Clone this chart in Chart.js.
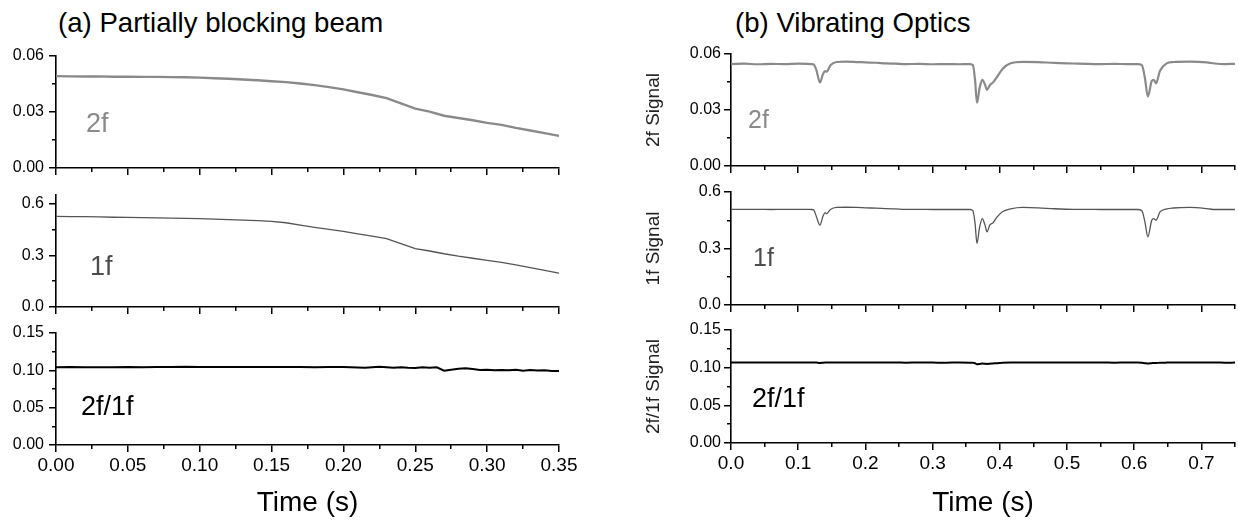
<!DOCTYPE html>
<html><head><meta charset="utf-8">
<script src="https://cdn.jsdelivr.net/npm/chart.js@4.4.1/dist/chart.umd.min.js"></script>
<style>
html,body{margin:0;padding:0;background:#fff;width:1238px;height:521px;overflow:hidden;position:relative;font-family:"Liberation Sans",Arial,sans-serif;}
canvas{position:absolute;}
.t{position:absolute;white-space:nowrap;line-height:1;}
</style></head><body>
<div class="t" style="left:58px;top:9px;font-size:27.6px;color:#000;">(a) Partially blocking beam</div>
<div class="t" style="left:735px;top:9px;font-size:27.6px;color:#000;">(b) Vibrating Optics</div>
<script>
// ---------- data ----------
const leftTime = [0,0.01,0.02,0.03,0.04,0.05,0.06,0.07,0.08,0.09,0.10,0.11,0.12,0.13,0.14,0.15,0.16,0.17,0.18,0.19,0.20,0.21,0.22,0.23,0.24,0.25,0.26,0.27,0.28,0.29,0.30,0.31,0.32,0.33,0.34,0.35];
const left2f = [0.0492,0.0491,0.0490,0.0491,0.0489,0.0489,0.0488,0.0488,0.0487,0.0486,0.0484,0.0481,0.0478,0.0474,0.0470,0.0465,0.0460,0.0453,0.0444,0.0433,0.0421,0.0406,0.0391,0.0374,0.0346,0.0318,0.0302,0.0280,0.0268,0.0256,0.0242,0.0231,0.0215,0.0201,0.0187,0.0172];
const left1f = [0.526,0.525,0.524,0.523,0.521,0.520,0.519,0.517,0.516,0.514,0.513,0.510,0.507,0.504,0.501,0.497,0.489,0.475,0.462,0.450,0.439,0.425,0.411,0.397,0.368,0.339,0.325,0.309,0.295,0.283,0.271,0.259,0.245,0.229,0.212,0.196];
const leftRatioTime = [0,0.01,0.02,0.03,0.04,0.05,0.06,0.07,0.08,0.09,0.10,0.11,0.12,0.13,0.14,0.15,0.16,0.17,0.18,0.19,0.20,
  0.205,0.21,0.215,0.22,0.225,0.23,0.235,0.24,0.245,0.25,0.255,0.26,0.265,0.27,0.275,0.28,0.285,0.29,0.295,0.30,0.305,0.31,0.315,0.32,0.325,0.33,0.335,0.34,0.345,0.35];
const leftRatio = [0.1040,0.1043,0.1041,0.1042,0.1040,0.1043,0.1041,0.1045,0.1044,0.1047,0.1045,0.1043,0.1046,0.1044,0.1043,0.1045,0.1043,0.1046,0.1042,0.1044,0.1043,
  0.1040,0.1038,0.1033,0.1040,0.1047,0.1041,0.1036,0.1042,0.1034,0.1030,0.1041,0.1036,0.1040,0.0995,0.1008,0.1022,0.1027,0.1018,0.1005,0.1008,0.1002,0.1006,0.1000,0.1008,0.0995,0.1003,0.0997,0.1002,0.0992,0.0990];

const rightTime = [0,0.02,0.04,0.06,0.08,0.10,0.12,0.123,0.127,0.1324,0.1366,0.14,0.1424,0.148,0.157,0.17,0.187,0.20,0.216,0.23,0.245,0.26,0.28,0.30,0.32,0.34,0.356,0.360,0.3632,0.366,0.370,0.374,0.378,0.381,0.385,0.390,0.396,0.404,0.416,0.434,0.457,0.481,0.51,0.53,0.55,0.57,0.59,0.605,0.6114,0.6160,0.6203,0.6261,0.629,0.6324,0.6384,0.6483,0.658,0.683,0.708,0.72,0.735,0.75];
const right2f = [0.0546,0.0548,0.0545,0.0547,0.0546,0.0548,0.0546,0.0544,0.0515,0.0447,0.0490,0.0508,0.0505,0.0540,0.0557,0.0559,0.0557,0.0555,0.0553,0.0550,0.0548,0.0546,0.0547,0.0545,0.0546,0.0545,0.0546,0.0540,0.0460,0.0339,0.0420,0.0462,0.0436,0.0408,0.0432,0.0448,0.0478,0.0520,0.0550,0.0558,0.0557,0.0552,0.0549,0.0547,0.0546,0.0547,0.0546,0.0546,0.0540,0.0470,0.0372,0.0455,0.0462,0.0443,0.0510,0.0550,0.0557,0.0559,0.0555,0.0549,0.0546,0.0547];
const right1f = [0.508,0.508,0.508,0.507,0.508,0.508,0.507,0.505,0.470,0.424,0.468,0.490,0.485,0.507,0.518,0.519,0.518,0.516,0.514,0.512,0.510,0.508,0.508,0.507,0.507,0.507,0.507,0.500,0.433,0.327,0.415,0.459,0.424,0.388,0.424,0.437,0.468,0.495,0.510,0.518,0.516,0.511,0.508,0.508,0.507,0.507,0.507,0.507,0.500,0.440,0.362,0.450,0.459,0.450,0.494,0.510,0.515,0.518,0.512,0.507,0.507,0.507];
const rightRatio = [0.1068,0.1070,0.1067,0.1069,0.1068,0.1067,0.1069,0.1068,0.1067,0.1062,0.1066,0.1068,0.1067,0.1069,0.1070,0.1068,0.1069,0.1067,0.1068,0.1067,0.1068,0.1066,0.1068,0.1067,0.1066,0.1068,0.1066,0.1064,0.1058,0.1045,0.1050,0.1055,0.1052,0.1050,0.1053,0.1056,0.1060,0.1064,0.1067,0.1068,0.1069,0.1067,0.1068,0.1067,0.1068,0.1066,0.1068,0.1067,0.1064,0.1060,0.1055,0.1060,0.1062,0.1062,0.1065,0.1067,0.1068,0.1069,0.1067,0.1068,0.1066,0.1067];

// ---------- ticks (major with label, minor with '') ----------
const leftTimeTicks = [0,0.025,0.05,0.075,0.10,0.125,0.15,0.175,0.20,0.225,0.25,0.275,0.30,0.325,0.35];
const leftTimeLabels = ['0.00','','0.05','','0.10','','0.15','','0.20','','0.25','','0.30','','0.35'];
const rightTimeTicks = [0,0.05,0.1,0.15,0.2,0.25,0.3,0.35,0.4,0.45,0.5,0.55,0.6,0.65,0.7,0.75];
const rightTimeLabels = ['0.0','','0.1','','0.2','','0.3','','0.4','','0.5','','0.6','','0.7',''];
const ticks2f = [0,0.015,0.03,0.045,0.06];
const labels2f = ['0.00','','0.03','','0.06'];
const ticks1f = [0,0.15,0.3,0.45,0.6];
const labels1f = ['0.0','','0.3','','0.6'];
const ticksRatio = [0,0.025,0.05,0.075,0.10,0.125,0.15];
const labelsRatio = ['0.00','','0.05','','0.10','','0.15'];

Chart.defaults.font.family = '"Liberation Sans", Arial, sans-serif';
Chart.defaults.color = '#000';

function majors(t, l){ const v = [], s = []; t.forEach((x,i)=>{ if (l[i] !== '') { v.push(x); s.push(l[i]); } }); return {v, s}; }
function minors(t, l){ return t.filter((x,i)=>l[i] === ''); }
function zeroPad(s){ s.paddingLeft = 0; s.paddingRight = 0; s.paddingTop = 0; s.paddingBottom = 0; }

function panel(o){
  const cv = document.createElement('canvas');
  cv.width = o.w; cv.height = o.h;
  cv.style.left = o.left + 'px'; cv.style.top = o.top + 'px';
  cv.style.width = o.w + 'px'; cv.style.height = o.h + 'px';
  document.body.appendChild(cv);
  const pts = o.xs.map((x,i)=>({x:x, y:o.ys[i]}));
  const xM = majors(o.xTicks, o.xLabels), yM = majors(o.yTicks, o.yLabels);
  const xm = minors(o.xTicks, o.xLabels), ym = minors(o.yTicks, o.yLabels);
  const majorGrid = {display:true, drawOnChartArea:false, drawTicks:true, tickLength:7, tickWidth:1.5, tickColor:'#000', lineWidth:1.5};
  const minorGrid = {display:true, drawOnChartArea:false, drawTicks:true, tickLength:4, tickWidth:1.5, tickColor:'#000', lineWidth:1.5};
  new Chart(cv, {
    type:'line',
    data:{datasets:[{data:pts, xAxisID:'x', yAxisID:'y', borderColor:o.color, borderWidth:o.lw, pointRadius:0, tension:0, cubicInterpolationMode:o.smooth ? 'monotone' : 'default', fill:false}]},
    options:{
      responsive:false, animation:false, devicePixelRatio:1,
      layout:{padding:{top:o.padTop, right:o.padRight, left:0, bottom:0}},
      plugins:{legend:{display:false}, tooltip:{enabled:false}},
      scales:{
        x:{type:'linear', position:'bottom', min:o.xMin, max:o.xMax, bounds:'data',
          afterBuildTicks:s=>{s.ticks = xM.v.map(v=>({value:v}));},
          afterFit:s=>{s.height = o.xH; zeroPad(s);},
          grid:majorGrid,
          border:{display:true, color:'#000', width:1.6},
          ticks:{display:o.showX, autoSkip:false, maxRotation:0, minRotation:0, padding:2, font:{size:19}, color:'#000', callback:(v,i)=>xM.s[i]},
          title:{display:!!o.xTitle, text:o.xTitle || '', font:{size:28}, color:'#000', padding:{top:0, bottom:1}}
        },
        y:{type:'linear', position:'left', min:o.yMin, max:o.yMax, bounds:'data',
          afterBuildTicks:s=>{s.ticks = yM.v.map(v=>({value:v}));},
          afterFit:s=>{s.width = o.yW; zeroPad(s);},
          grid:majorGrid,
          border:{display:true, color:'#000', width:1.6},
          ticks:{autoSkip:false, padding:o.yPad, font:{size:16}, color:'#000', callback:(v,i)=>yM.s[i]},
          title:{display:!!o.yTitle, text:o.yTitle || '', font:{size:19}, color:'#222', padding:{top:22.6, bottom:0}}
        },
        xm:{type:'linear', axis:'x', position:{y:o.yMin}, min:o.xMin, max:o.xMax, bounds:'data',
          afterBuildTicks:s=>{s.ticks = xm.map(v=>({value:v}));},
          afterFit:s=>{zeroPad(s);},
          grid:minorGrid, border:{display:false}, ticks:{display:false}
        },
        ym:{type:'linear', axis:'y', position:{x:o.xMin}, min:o.yMin, max:o.yMax, bounds:'data',
          afterBuildTicks:s=>{s.ticks = ym.map(v=>({value:v}));},
          afterFit:s=>{zeroPad(s);},
          grid:minorGrid, border:{display:false}, ticks:{display:false}
        }
      }
    }
  });
}

const L = {left:0, w:585, yW:56, padRight:26, yPad:5, xMin:0, xMax:0.35, xTicks:leftTimeTicks, xLabels:leftTimeLabels, smooth:false};
const R = {left:620, w:618, yW:111, padRight:3, yPad:3, xMin:0, xMax:0.75, xTicks:rightTimeTicks, xLabels:rightTimeLabels, smooth:true};

panel(Object.assign({}, L, {top:40, h:140, padTop:16, xH:12, showX:false, yMin:0, yMax:0.06, yTicks:ticks2f, yLabels:labels2f, xs:leftTime, ys:left2f, color:'#8a8a8a', lw:2.4}));
panel(Object.assign({}, L, {top:180, h:139, padTop:15, xH:12, showX:false, yMin:0, yMax:0.65, yTicks:ticks1f, yLabels:labels1f, xs:leftTime, ys:left1f, color:'#555555', lw:1.3}));
panel(Object.assign({}, L, {top:318, h:203, padTop:15, xH:76, showX:true, xTitle:'Time (s)', yMin:0, yMax:0.15, yTicks:ticksRatio, yLabels:labelsRatio, xs:leftRatioTime, ys:leftRatio, color:'#000000', lw:2}));

panel(Object.assign({}, R, {top:40, h:138, padTop:14, xH:12, showX:false, yTitle:'2f Signal', yMin:0, yMax:0.06, yTicks:ticks2f, yLabels:labels2f, xs:rightTime, ys:right2f, color:'#8a8a8a', lw:2.2}));
panel(Object.assign({}, R, {top:178, h:139, padTop:14, xH:12, showX:false, yTitle:'1f Signal', yMin:0, yMax:0.6, yTicks:ticks1f, yLabels:labels1f, xs:rightTime, ys:right1f, color:'#555555', lw:1.3}));
panel(Object.assign({}, R, {top:318, h:203, padTop:12, xH:78, showX:true, xTitle:'Time (s)', yTitle:'2f/1f Signal', yMin:0, yMax:0.15, yTicks:ticksRatio, yLabels:labelsRatio, xs:rightTime, ys:rightRatio, color:'#000000', lw:2}));
</script>
<div class="t" style="left:86px;top:110px;font-size:27px;color:#8a8a8a;">2f</div>
<div class="t" style="left:90px;top:253px;font-size:27px;color:#4d4d4d;">1f</div>
<div class="t" style="left:81px;top:393px;font-size:27px;color:#000;">2f/1f</div>
<div class="t" style="left:748px;top:107px;font-size:25px;color:#8a8a8a;">2f</div>
<div class="t" style="left:753px;top:245px;font-size:25px;color:#4d4d4d;">1f</div>
<div class="t" style="left:752px;top:385px;font-size:27px;color:#000;">2f/1f</div>
</body></html>
